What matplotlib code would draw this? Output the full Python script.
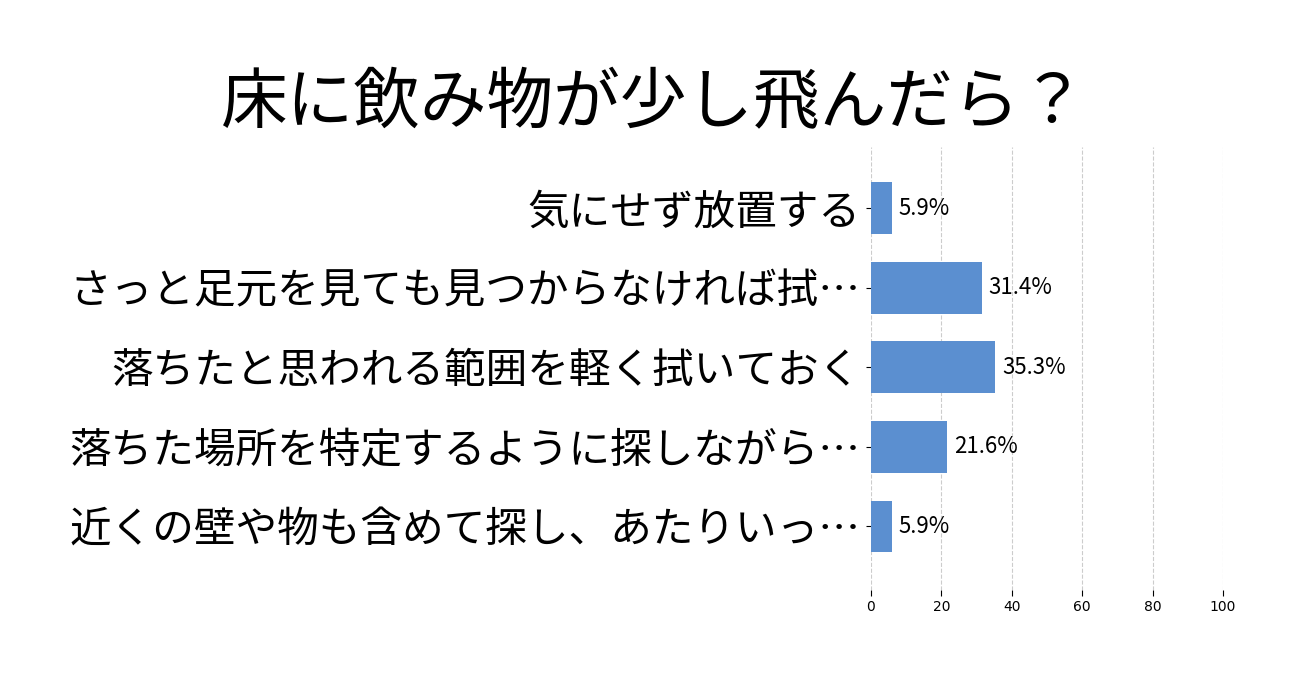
import numpy as np
import matplotlib
matplotlib.use('Agg')
import matplotlib.pyplot as plt

plt.rcParams['font.family'] = ['Noto Sans CJK JP', 'DejaVu Sans']

# Data
title = '床に飲み物が少し飛んだら？'
categories = ['気にせず放置する',
              'さっと足元を見ても見つからなければ拭…',
              '落ちたと思われる範囲を軽く拭いておく',
              '落ちた場所を特定するように探しながら…',
              '近くの壁や物も含めて探し、あたりいっ…']
values = [5.9, 31.4, 35.3, 21.6, 5.9]
xticks = [0, 20, 40, 60, 80, 100]

fig = plt.figure(figsize=(13.06, 6.83), dpi=100)
ax = fig.add_axes([871/1306, 1 - 590/683, (1223 - 871)/1306, (590 - 147)/683])

ypos = np.arange(len(categories))
ax.barh(ypos, values, height=0.65, color='#5b8fd0', zorder=2)
ax.set_ylim(4.8, -0.77)
ax.set_xlim(0, 100)

for y, v in zip(ypos, values):
    ax.text(v + 2.0, y, f'{v}%', va='center', ha='left', fontsize=16)

ax.set_yticks(ypos)
ax.set_yticklabels(categories, fontsize=30)
ax.set_xticks(xticks)
ax.set_xticklabels([str(t) for t in xticks], fontsize=10, family='DejaVu Sans')
ax.tick_params(axis='y', length=3.5, pad=4)
ax.tick_params(axis='x', length=4)
ax.grid(axis='x', color='#cccccc', linestyle='--', linewidth=0.8, zorder=0)
for s in ax.spines.values():
    s.set_visible(False)

fig.text(0.501, 1 - 104/683, title, ha='center', va='center', fontsize=48)

plt.savefig('out.png', dpi=100)
